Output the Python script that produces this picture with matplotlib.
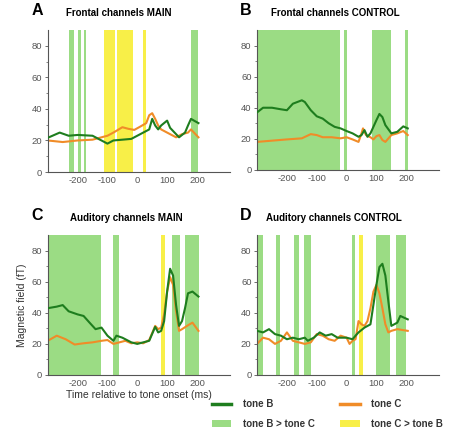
import matplotlib
matplotlib.use("Agg")
import matplotlib.pyplot as plt
from matplotlib.patches import Patch
from matplotlib.lines import Line2D

plt.rcParams["font.family"] = ["Liberation Sans", "DejaVu Sans"]
plt.rcParams["axes.unicode_minus"] = False

GREEN_LINE = "#1e7d1e"
ORANGE = "#f08c28"
GREEN_SHADE = "#9bdc84"
YELLOW = "#f8ef48"
GREY = "#555555"

# panel A - frontal MAIN
a_t_b = [-300, -260, -230, -200, -150, -130, -100, -80, -50, -20, 0, 20, 40, 50, 60, 70, 80, 100, 110, 130, 140, 160, 170, 180, 190, 205]
a_b = [21.7, 25, 23, 23.5, 23, 21, 18, 20, 20.5, 21, 23, 25, 27, 33.7, 29.5, 27, 29.5, 32.6, 28, 24, 22, 25, 29.5, 33.7, 32.6, 31]
a_t_c = [-300, -250, -200, -150, -120, -100, -80, -50, -30, -10, 10, 30, 40, 50, 60, 70, 80, 100, 130, 150, 170, 180, 190, 205]
a_c = [20, 19, 20, 20.5, 22, 23, 25, 28.4, 27.4, 26.7, 28.8, 31, 36, 37.3, 33.7, 29.5, 27, 25, 22, 24, 25, 27, 25, 22]
a_green = [(-230, -213), (-200, -189), (-180, -171), (181, 205)]
a_yellow = [(-110, -74), (-68, -15), (18, 29)]

# panel B - frontal CONTROL
b_t_b = [-300, -280, -250, -220, -200, -180, -150, -140, -120, -100, -80, -60, -40, -20, 0, 20, 40, 50, 60, 70, 80, 100, 110, 120, 130, 150, 170, 190, 205]
b_b = [37, 40, 40, 39, 38.4, 42.6, 44.8, 43.7, 38.4, 34.5, 33, 30, 27.7, 26.7, 25, 23.5, 21.3, 22.4, 25.6, 21.3, 23.5, 32, 36, 34, 28.8, 23.5, 24.5, 28, 26.7]
b_t_c = [-300, -250, -200, -150, -120, -100, -80, -50, -20, 0, 20, 40, 50, 55, 65, 80, 90, 100, 110, 120, 130, 150, 170, 190, 205]
b_c = [18, 18.8, 19.6, 20.3, 23, 22.4, 21, 21, 20.3, 21, 19.6, 18, 23.5, 26.7, 22.4, 21, 19.6, 21.7, 22.4, 19.2, 18, 22.4, 23.5, 25, 22.4]
b_green = [(-300, -22), (-8, 2), (84, 149), (197, 207)]
b_yellow = []

# panel C - auditory MAIN
c_t_b = [-300, -270, -250, -230, -200, -180, -160, -140, -120, -100, -80, -70, -50, -20, 0, 20, 40, 60, 70, 80, 90, 100, 110, 120, 130, 140, 150, 160, 170, 185, 205]
c_b = [43, 44, 45, 41, 39, 38, 33.7, 29.5, 30.5, 25.3, 22, 25.3, 24, 21, 20, 21, 22, 31, 27.4, 28.4, 34.7, 53.7, 68.4, 64, 45, 31.6, 34.7, 43, 52.6, 53.7, 50.5]
c_t_c = [-300, -270, -240, -210, -180, -150, -120, -100, -80, -60, -40, -20, 0, 20, 40, 60, 70, 80, 90, 100, 110, 120, 130, 140, 150, 170, 185, 205]
c_c = [22, 25.3, 23, 19.6, 20.4, 21, 22, 22.5, 20, 21, 22, 20.4, 21, 20.4, 22.5, 31.6, 29.5, 30.5, 39, 53.7, 63, 58, 41, 28.4, 29.5, 32, 33.7, 28.4]
c_green = [(-300, -122), (-80, -62), (116, 142), (161, 207)]
c_yellow = [(80, 93)]

# panel D - auditory CONTROL
d_t_b = [-300, -280, -260, -240, -220, -200, -180, -160, -140, -130, -110, -90, -70, -50, -30, 0, 20, 30, 40, 60, 80, 100, 110, 120, 130, 140, 150, 170, 180, 205]
d_b = [28.4, 27.4, 29.5, 26.3, 25.3, 23, 24, 23, 24, 22, 24, 27.4, 25.3, 26.3, 24, 24, 23, 25.3, 27.4, 30.5, 32.6, 58, 69.5, 71.6, 64, 47.4, 31.6, 33.7, 38, 35.8]
d_t_c = [-300, -280, -260, -240, -220, -200, -180, -160, -140, -120, -100, -80, -60, -40, -20, 0, 10, 20, 30, 40, 50, 60, 70, 80, 90, 100, 110, 120, 130, 140, 150, 170, 205]
d_c = [20, 24, 23, 20, 22, 27.4, 22, 21, 20, 21, 26.3, 25.3, 23, 22, 25.3, 24, 20, 22, 23, 34.7, 32.6, 31.6, 34.7, 43, 53.7, 58, 52.6, 43, 32.6, 27.4, 28.4, 29.5, 28.4]
d_green = [(-300, -280), (-235, -222), (-175, -161), (-142, -119), (17, 28), (98, 144), (164, 200)]
d_yellow = [(42, 56)]

panels = [
    ("A", "Frontal channels MAIN", a_t_b, a_b, a_t_c, a_c, a_green, a_yellow),
    ("B", "Frontal channels CONTROL", b_t_b, b_b, b_t_c, b_c, b_green, b_yellow),
    ("C", "Auditory channels MAIN", c_t_b, c_b, c_t_c, c_c, c_green, c_yellow),
    ("D", "Auditory channels CONTROL", d_t_b, d_b, d_t_c, d_c, d_green, d_yellow),
]

# axes rects in figure fraction, and title x positions
rects = [
    [0.105, 0.600, 0.400, 0.330],
    [0.565, 0.605, 0.400, 0.325],
    [0.105, 0.128, 0.400, 0.325],
    [0.565, 0.128, 0.400, 0.325],
]
title_x = [0.39, 0.43, 0.43, 0.42]

fig = plt.figure(figsize=(4.55, 4.30), dpi=100)

for (letter, title, tb, yb, tc, yc, greens, yellows), r, tx in zip(panels, rects, title_x):
    ax = fig.add_axes(r)
    for x0, x1 in greens:
        ax.axvspan(x0, x1, color=GREEN_SHADE, lw=0, zorder=0)
    for x0, x1 in yellows:
        ax.axvspan(x0, x1, color=YELLOW, lw=0, zorder=0)
    ax.plot(tc, yc, color=ORANGE, lw=1.5, zorder=2)
    ax.plot(tb, yb, color=GREEN_LINE, lw=1.5, zorder=3)
    ax.set_xlim(-300, 310)
    ax.set_ylim(0, 90)
    ax.set_xticks([-200, -100, 0, 100, 200])
    ax.set_yticks([0, 20, 40, 60, 80])
    ax.set_yticks(range(0, 90, 10), minor=True)
    for s in ["top", "right"]:
        ax.spines[s].set_visible(False)
    for s in ["left", "bottom"]:
        ax.spines[s].set_color(GREY)
        ax.spines[s].set_linewidth(0.8)
    ax.tick_params(labelsize=6.8, colors=GREY, length=2, width=0.6, pad=2)
    ax.tick_params(which="minor", length=1.5, width=0.5, colors=GREY)
    ax.tick_params(axis="x", length=0, pad=3)
    ax.text(-0.06, 1.14, letter, transform=ax.transAxes, fontsize=11.5,
            fontweight="bold", ha="center", va="center")
    ax.text(tx, 1.12, title, transform=ax.transAxes, fontsize=7,
            fontweight="bold", ha="center", va="center")
    if letter == "C":
        ax.set_ylabel("Magnetic field (fT)", fontsize=7.5, color="#333333", labelpad=3)
        ax.set_xlabel("Time relative to tone onset (ms)", fontsize=7.5, color="#333333", labelpad=1)

handles = [
    Line2D([], [], color=GREEN_LINE, lw=2.5),
    Patch(color=GREEN_SHADE, lw=0),
    Line2D([], [], color=ORANGE, lw=2.5),
    Patch(color=YELLOW, lw=0),
]
labels = ["tone B", "tone B > tone C", "tone C", "tone C > tone B"]
leg = fig.legend(handles, labels, loc="upper left", bbox_to_anchor=(0.466, 0.071),
                 ncol=2, frameon=False, fontsize=7, handlelength=2.0,
                 columnspacing=2.6, handletextpad=1.2, labelspacing=1.0,
                 borderpad=0, borderaxespad=0)
for t in leg.get_texts():
    t.set_fontweight("bold")
    t.set_color("#333333")

fig.savefig("out.png", dpi=100)
